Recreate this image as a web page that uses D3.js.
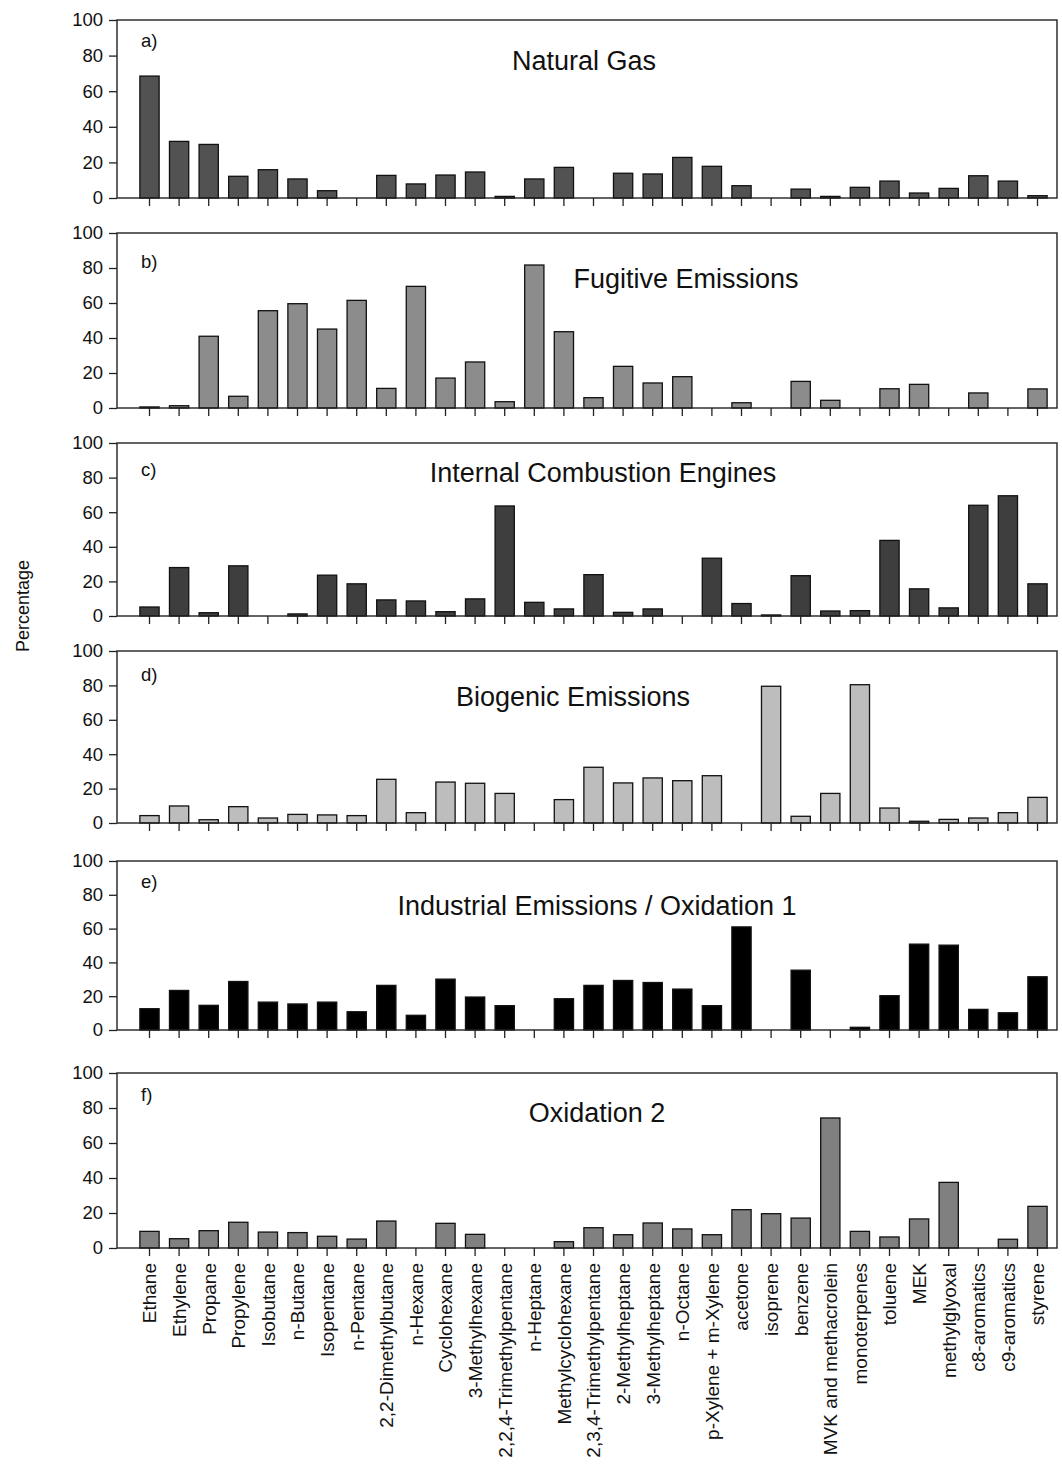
<!DOCTYPE html>
<html>
<head>
<meta charset="utf-8">
<script src="https://cdn.jsdelivr.net/npm/d3@7"></script>
<style>
  html, body { margin: 0; padding: 0; background: #fff; }
  svg { display: block; }
  text { font-family: "Liberation Sans", Arial, sans-serif; fill: #111; }
</style>
</head>
<body>
<svg id="chart" width="1062" height="1465"></svg>
<script>
const categories = ["Ethane","Ethylene","Propane","Propylene","Isobutane","n-Butane","Isopentane","n-Pentane",
  "2,2-Dimethylbutane","n-Hexane","Cyclohexane","3-Methylhexane","2,2,4-Trimethylpentane","n-Heptane",
  "Methylcyclohexane","2,3,4-Trimethylpentane","2-Methylheptane","3-Methylheptane","n-Octane",
  "p-Xylene + m-Xylene","acetone","isoprene","benzene","MVK and methacrolein","monoterpenes","toluene",
  "MEK","methylglyoxal","c8-aromatics","c9-aromatics","styrene"];

const naturalGas = [68.5,31.8,30.1,12.2,15.9,10.7,4.1,0,12.7,7.9,12.9,14.6,0.9,10.7,17.2,0,13.9,13.5,22.8,17.8,6.9,0,5.0,0.9,6.0,9.5,2.8,5.4,12.5,9.5,1.3];
const fugitive = [0.6,1.3,41,6.7,55.6,59.6,45.1,61.5,11.2,69.5,17.1,26.3,3.6,81.7,43.6,5.9,23.8,14.3,17.9,0,3,0,15.2,4.4,0,11,13.5,0,8.6,0,10.9];
const engines = [5.2,28,1.9,29,0,1.2,23.6,18.6,9.3,8.7,2.5,9.9,63.6,7.9,4.1,23.9,2.1,4.1,0,33.4,7.2,0.6,23.3,2.9,3.1,43.7,15.7,4.7,64,69.5,18.6];
const biogenic = [4.3,9.9,1.9,9.5,2.9,5,4.7,4.3,25.4,6,23.8,23.1,17.2,0,13.6,32.4,23.3,26.2,24.6,27.5,0,79.5,3.9,17.2,80.4,8.7,1,2.1,2.9,6,14.9];
const industrial = [12.6,23.4,14.6,28.7,16.5,15.4,16.5,10.8,26.4,8.7,30.1,19.5,14.4,0,18.5,26.4,29.3,28.1,24.2,14.4,61,0,35.4,0,1.6,20.3,50.8,50.2,12.2,10.2,31.5];
const oxidation2 = [9.5,5.3,9.9,14.7,9.1,8.8,6.7,5.1,15.4,0,14.1,7.8,0,0,3.6,11.6,7.6,14.3,10.9,7.6,21.9,19.6,17.1,74.3,9.5,6.3,16.6,37.5,0,5,23.8];

const panelLetters = ["a)","b)","c)","d)","e)","f)"];
const panelTitles = ["Natural Gas","Fugitive Emissions","Internal Combustion Engines","Biogenic Emissions",
  "Industrial Emissions / Oxidation 1","Oxidation 2"];
const yTicks = [0,20,40,60,80,100];
const yLabel = "Percentage";

const seriesList = [naturalGas, fugitive, engines, biogenic, industrial, oxidation2];

// layout (positions and styles)
const panelTops = [20, 233, 443, 651, 861, 1073];
const panelBottoms = [198, 408, 616, 823, 1030, 1248];
const titleX = [584, 686, 603, 573, 597, 597];
const titleDy = [50, 55, 39, 55, 54, 49];
const letterDy = [27, 35, 33, 30, 27, 28];
const fills = ["#525252", "#8c8c8c", "#3e3e3e", "#bdbdbd", "#000000", "#808080"];
const axisX = 117, rightX = 1057;

const svg = d3.select("#chart");

const x = d3.scaleBand()
  .domain(categories)
  .range([134.7, 1052.3])
  .paddingInner(0.35)
  .paddingOuter(0.175);

seriesList.forEach((vals, p) => {
  const top = panelTops[p], bottom = panelBottoms[p];
  const y = d3.scaleLinear().domain([0, 100]).range([bottom, top]);
  const g = svg.append("g");

  // bars
  g.selectAll("rect.bar")
    .data(categories.map((c, i) => ({c, v: vals[i]})).filter(d => d.v > 0))
    .join("rect")
    .attr("class", "bar")
    .attr("x", d => x(d.c))
    .attr("width", x.bandwidth())
    .attr("y", d => y(d.v))
    .attr("height", d => y(0) - y(d.v))
    .attr("fill", fills[p])
    .attr("stroke", "#111")
    .attr("stroke-width", 1.3);

  // frame
  g.append("rect")
    .attr("x", axisX).attr("y", top)
    .attr("width", rightX - axisX).attr("height", bottom - top)
    .attr("fill", "none").attr("stroke", "#222").attr("stroke-width", 1.4);

  // y axis
  const ya = g.append("g")
    .attr("transform", `translate(${axisX},0)`)
    .call(d3.axisLeft(y).tickValues(yTicks).tickSize(8).tickSizeOuter(0).tickPadding(6));
  ya.select(".domain").remove();
  ya.selectAll("line").attr("stroke", "#222").attr("stroke-width", 1.3);
  ya.selectAll("text").attr("font-size", 18.5).attr("fill", "#111")
    .style("font-family", "'Liberation Sans', Arial, sans-serif");

  // x axis
  const xa = g.append("g")
    .attr("transform", `translate(0,${bottom})`)
    .call(d3.axisBottom(x).tickSize(8).tickSizeOuter(0).tickPadding(4));
  xa.select(".domain").remove();
  xa.selectAll("line").attr("stroke", "#222").attr("stroke-width", 1.3);
  if (p === seriesList.length - 1) {
    xa.selectAll("text")
      .attr("font-size", 19)
      .attr("fill", "#111")
      .style("font-family", "'Liberation Sans', Arial, sans-serif")
      .attr("text-anchor", "end")
      .attr("transform", "rotate(-90)")
      .attr("x", -15)
      .attr("y", 0)
      .attr("dy", "0.36em");
  } else {
    xa.selectAll("text").remove();
  }

  // letter
  g.append("text")
    .attr("x", 141).attr("y", top + letterDy[p])
    .attr("font-size", 18.5)
    .text(panelLetters[p]);

  // title
  g.append("text")
    .attr("x", titleX[p]).attr("y", top + titleDy[p])
    .attr("text-anchor", "middle")
    .attr("font-size", 27)
    .text(panelTitles[p]);
});

svg.append("text")
  .attr("transform", "translate(29,606) rotate(-90)")
  .attr("text-anchor", "middle")
  .attr("font-size", 18)
  .text(yLabel);
</script>
</body>
</html>
